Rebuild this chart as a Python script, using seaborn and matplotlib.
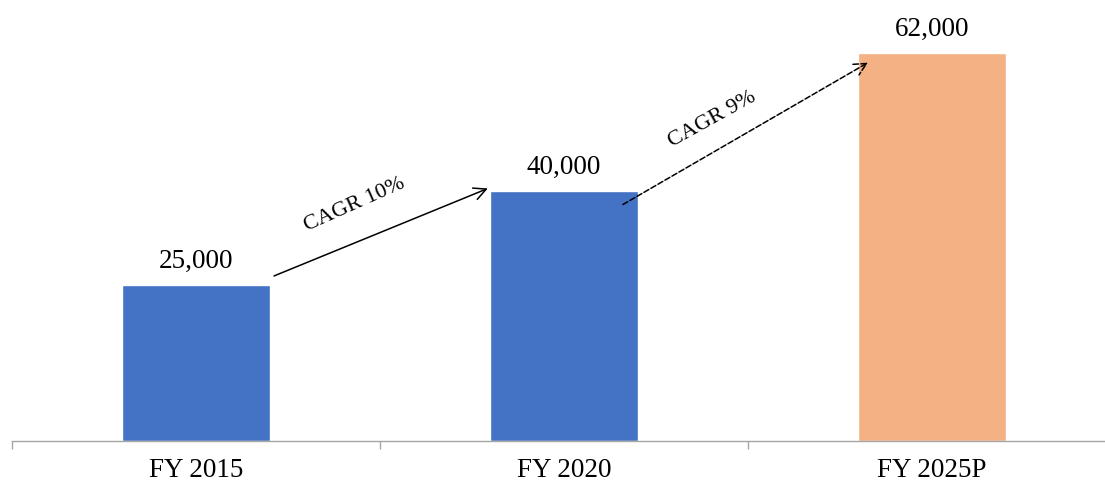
import matplotlib
matplotlib.use("Agg")
import matplotlib.pyplot as plt
import seaborn as sns

# chart data
categories = ["FY 2015", "FY 2020", "FY 2025P"]
values = [25000, 40000, 62000]
value_labels = ["25,000", "40,000", "62,000"]
bar_colors = ["#4472C4", "#4472C4", "#F4B183"]
cagr_labels = ["CAGR 10%", "CAGR 9%"]

sns.set_style("white")
plt.rcParams['font.family'] = ['Liberation Serif', 'DejaVu Serif']
plt.rcParams['text.color'] = 'black'
plt.rcParams['xtick.labelcolor'] = 'black'

fig = plt.figure(figsize=(11.05, 4.84), dpi=100)
ax = fig.add_axes([12 / 1105, 43 / 484, 1093 / 1105, 435 / 484])

sns.barplot(x=categories, y=values, hue=categories, palette=bar_colors,
            width=0.4, legend=False, saturation=1, ax=ax)

ax.set_xlim(-0.5, 2.47)
ax.set_ylim(0, 69500)
ax.set_yticks([])
ax.set_xlabel("")
ax.set_ylabel("")

# category separators like Excel
ax.set_xticks([-0.5, 0.5, 1.5], minor=True)
ax.tick_params(axis="x", which="major", length=0, labelsize=19.5, pad=12,
               labelcolor="black")
ax.tick_params(axis="x", which="minor", length=6, width=1, color="#A6A6A6",
               direction="out", bottom=True)

for s in ["top", "right", "left"]:
    ax.spines[s].set_visible(False)
ax.spines["bottom"].set_color("#A6A6A6")
ax.spines["bottom"].set_linewidth(1)

# value labels above the bars
for i, v in enumerate(values):
    ax.annotate(value_labels[i], (i, v), xytext=(0, 8), textcoords="offset points",
                ha="center", va="bottom", fontsize=19.5, color="black")

# CAGR arrows
ax.annotate("", xy=(0.793, 40350), xytext=(0.212, 26370),
            arrowprops=dict(arrowstyle="->", color="black", lw=1.1,
                            mutation_scale=22, shrinkA=0, shrinkB=0))
ax.annotate("", xy=(1.826, 60450), xytext=(1.160, 37780),
            arrowprops=dict(arrowstyle="->", color="black", lw=1.1, ls="--",
                            mutation_scale=22, shrinkA=0, shrinkB=0))

ax.text(0.432, 37780, cagr_labels[0], rotation=24, ha="center", va="center",
        fontsize=16, rotation_mode="anchor", color="black")
ax.text(1.402, 51290, cagr_labels[1], rotation=29, ha="center", va="center",
        fontsize=16, rotation_mode="anchor", color="black")

fig.savefig("out.png", dpi=100)
